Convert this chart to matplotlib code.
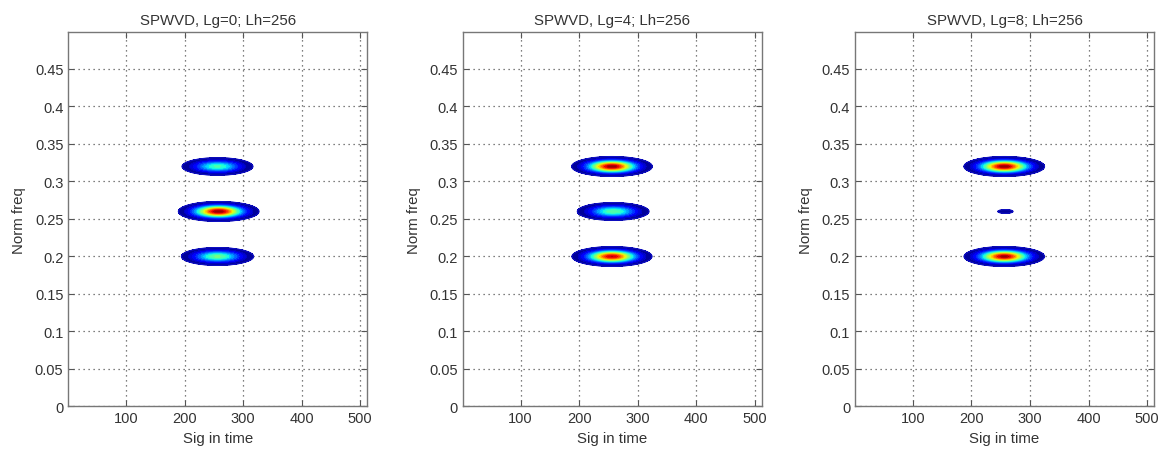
import matplotlib
matplotlib.use('Agg')
import matplotlib.pyplot as plt
import numpy as np

plt.rcParams['font.family'] = ['Liberation Sans', 'DejaVu Sans']

# three components, their peak heights in each panel
lg_values = [0, 4, 8]
lh_value = 256
comp_freq = [0.20, 0.26, 0.32]     # normalised frequency of each component
comp_time = [256, 258, 256]        # centre in samples
peaks_lg0 = [0.50, 1.00, 0.45]
peaks_lg4 = [0.95, 0.48, 1.00]
peaks_lg8 = [0.98, 0.034, 1.00]
sigma_t = 26.0                     # spread in time (samples)
sigma_f = 0.0050                   # spread in frequency
x_ticks = [100, 200, 300, 400, 500]
y_ticks = [0, 0.05, 0.1, 0.15, 0.2, 0.25, 0.3, 0.35, 0.4, 0.45]
y_tick_labels = ['0', '0.05', '0.1', '0.15', '0.2', '0.25', '0.3', '0.35', '0.4', '0.45']

t = np.arange(1, 513)
f = np.linspace(0, 0.499, 800)
T, F = np.meshgrid(t, f)

def tfr(peaks):
    z = np.zeros_like(T, dtype=float)
    for fc, tc, a in zip(comp_freq, comp_time, peaks):
        z += a * np.exp(-(T - tc)**2 / (2*sigma_t**2) - (F - fc)**2 / (2*sigma_f**2))
    return z

levels = np.linspace(0.03, 1.0, 20)
fig = plt.figure(figsize=(11.63, 4.52), dpi=100)
lefts = [0.0587, 0.3979, 0.7352]
for lg, peaks, left in zip(lg_values, [peaks_lg0, peaks_lg4, peaks_lg8], lefts):
    ax = fig.add_axes([left, 0.0985, 0.2571, 0.828])
    z = tfr(peaks)
    ax.contourf(T, F, z, levels=levels, cmap='jet')
    ax.contour(T, F, z, levels=levels, cmap='jet', linewidths=0.5)
    ax.contour(T, F, z, levels=[levels[0]], colors='#1010c8', linewidths=0.8)
    ax.set_xlim(1, 512)
    ax.set_ylim(0, 0.499)
    ax.set_xticks(x_ticks)
    ax.set_yticks(y_ticks)
    ax.set_yticklabels(y_tick_labels)
    ax.grid(True, linestyle=(0, (1, 3)), color='#555555', linewidth=0.9)
    ax.set_axisbelow(True)
    ax.tick_params(direction='in', top=True, right=True, length=4, labelsize=10.5,
                   color='#555555', labelcolor='#333333')
    for s in ax.spines.values():
        s.set_color('#777777')
        s.set_linewidth(1.0)
    ax.set_title('SPWVD, Lg=%d; Lh=%d' % (lg, lh_value), fontsize=10.8, color='#333333', pad=6)
    ax.set_xlabel('Sig in time', fontsize=10.8, color='#333333', labelpad=4)
    ax.set_ylabel('Norm freq', fontsize=10.8, color='#333333', labelpad=6)

plt.savefig('out.png', dpi=100)
